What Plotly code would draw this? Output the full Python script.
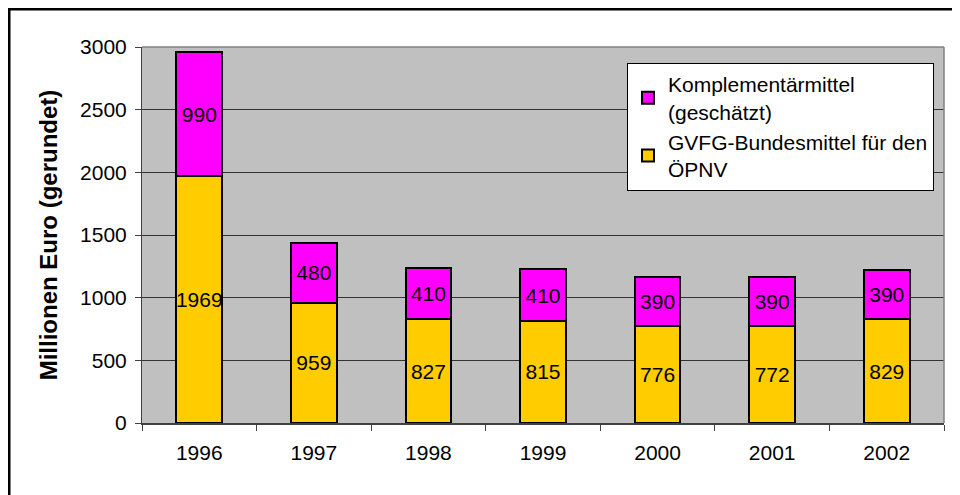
import plotly.graph_objects as go

years = ["1996", "1997", "1998", "1999", "2000", "2001", "2002"]
gvfg = [1969, 959, 827, 815, 776, 772, 829]
komplement = [990, 480, 410, 410, 390, 390, 390]
y_ticks = [0, 500, 1000, 1500, 2000, 2500, 3000]

FONT = "Liberation Sans, Arial, sans-serif"

# page offset from default body margin
OFF = 8
W, H = 960 - OFF, 495 - OFF
L, R, T, B = 142 - OFF, 944 - OFF, 47 - OFF, 423 - OFF


def px(x):
    return (x - OFF - L) / (R - L)


def py(y):
    return (B - (y - OFF)) / (B - T)


fig = go.Figure()
fig.add_trace(go.Bar(
    x=years, y=gvfg, name="GVFG-Bundesmittel für den<br>ÖPNV",
    marker=dict(color="#FFCC00", line=dict(color="black", width=2)),
    text=[str(v) for v in gvfg], textposition="inside", insidetextanchor="middle",
    constraintext="none", textangle=0,
    textfont=dict(family=FONT, size=21, color="black"),
))
fig.add_trace(go.Bar(
    x=years, y=komplement, name="Komplementärmittel<br>(geschätzt)",
    marker=dict(color="#FF00FF", line=dict(color="black", width=2)),
    text=[str(v) for v in komplement], textposition="inside", insidetextanchor="middle",
    constraintext="none", textangle=0,
    textfont=dict(family=FONT, size=21, color="black"),
))

fig.update_layout(
    width=W, height=H,
    margin=dict(l=L, r=W - R, t=T, b=H - B),
    barmode="stack", bargap=0.6,
    plot_bgcolor="#C0C0C0", paper_bgcolor="white",
    font=dict(family=FONT, size=21, color="black"),
    showlegend=True,
    legend=dict(
        x=px(627), y=py(63), xanchor="left", yanchor="top",
        bgcolor="white", bordercolor="black", borderwidth=1,
        font=dict(family=FONT, size=21, color="black"),
        traceorder="reversed", itemwidth=30,
        tracegroupgap=16,
    ),
    xaxis=dict(
        showgrid=False, showline=True, linecolor="#404040", linewidth=2,
        ticks="outside", tickson="boundaries", ticklen=6, tickcolor="#404040",
        tickfont=dict(family=FONT, size=21, color="black"),
        ticklabelstandoff=10,
        mirror=False,
    ),
    yaxis=dict(
        range=[0, 3000], tickvals=y_ticks,
        showgrid=True, gridcolor="#333333", gridwidth=1,
        showline=True, linecolor="#404040", linewidth=1,
        ticks="outside", ticklen=6, tickcolor="#404040",
        tickfont=dict(family=FONT, size=21, color="black"),
        ticklabelstandoff=4,
        title=dict(text="<b>Millionen Euro (gerundet)</b>",
                   font=dict(family=FONT, size=24, color="black"), standoff=15),
        zeroline=False,
    ),
    shapes=[
        dict(type="line", xref="paper", yref="paper", x0=0, x1=1, y0=1, y1=1,
             line=dict(color="#808080", width=1.5)),
        dict(type="line", xref="paper", yref="paper", x0=1, x1=1, y0=0, y1=1,
             line=dict(color="#808080", width=1.5)),
        # outer chart frame (top and left edges visible)
        dict(type="line", xref="paper", yref="paper",
             x0=px(8), x1=px(962), y0=py(9), y1=py(9),
             line=dict(color="black", width=3)),
        dict(type="line", xref="paper", yref="paper",
             x0=px(9), x1=px(9), y0=py(8), y1=py(500),
             line=dict(color="black", width=3)),
    ],
)

fig.write_html("out.html")
